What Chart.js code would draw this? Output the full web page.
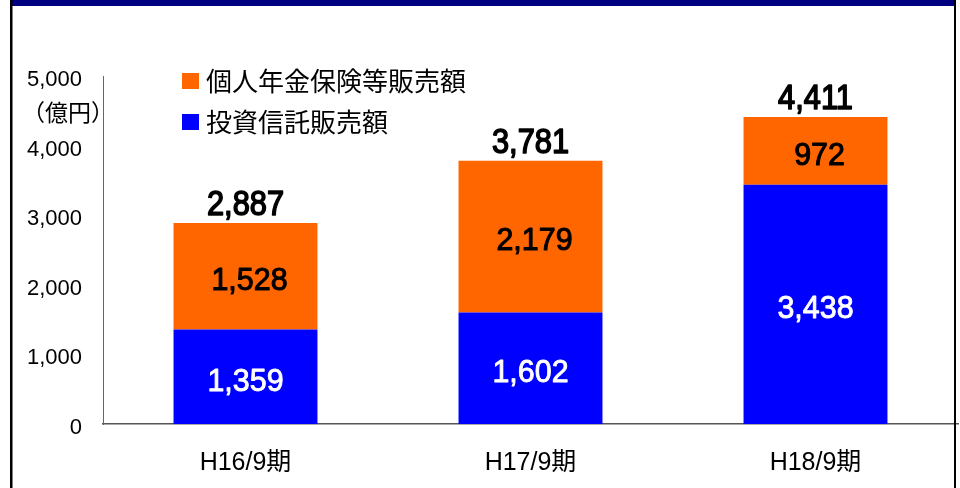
<!DOCTYPE html>
<html><head><meta charset="utf-8">
<script src="https://cdn.jsdelivr.net/npm/chart.js@4"></script>
<style>html,body{margin:0;padding:0;background:#fff;}canvas{display:block;}</style>
</head><body>
<canvas id="c" width="960" height="488"></canvas>
<script>
const categories = ['H16/9期', 'H17/9期', 'H18/9期'];
const trustSales = [1359, 1602, 3438];      // 投資信託販売額
const pensionSales = [1528, 2179, 972];     // 個人年金保険等販売額
const totals = [2887, 3781, 4411];
const seriesNames = ['投資信託販売額', '個人年金保険等販売額'];
const unitLabel = '（億円）';
const yMin = 0, yMax = 5000, yStep = 1000;

const LAT = "'Liberation Sans', Arial, 'Noto Sans CJK JP', sans-serif";
const CJK = "'Noto Sans CJK JP', 'Liberation Sans', sans-serif";
const fmt = v => v.toLocaleString('en-US');

const framePlugin = {
  id: 'frame',
  beforeDraw(chart) {
    const ctx = chart.ctx;
    ctx.save();
    ctx.fillStyle = '#fff';
    ctx.fillRect(0, 0, chart.width, chart.height);
    ctx.restore();
  },
  afterDraw(chart) {
    const ctx = chart.ctx;
    ctx.save();
    ctx.fillStyle = '#000080';
    ctx.fillRect(10, 0, 946, 6);
    ctx.fillStyle = '#000';
    ctx.fillRect(10, 0, 2.5, chart.height);
    ctx.fillRect(954, 0, 2, chart.height);
    ctx.restore();
  }
};

function drawScaled(ctx, text, x, y, font, sx, stroke) {
  ctx.save();
  ctx.translate(x, y);
  ctx.scale(sx, 1);
  ctx.font = font;
  ctx.fillText(text, 0, 0);
  if (stroke) {
    ctx.strokeStyle = ctx.fillStyle;
    ctx.lineWidth = stroke;
    ctx.lineJoin = 'round';
    ctx.strokeText(text, 0, 0);
  }
  ctx.restore();
}

const labelPlugin = {
  id: 'labels',
  afterDatasetsDraw(chart) {
    const ctx = chart.ctx;
    ctx.save();
    ctx.textAlign = 'center';
    ctx.textBaseline = 'middle';
    chart.data.datasets.forEach((ds, di) => {
      const meta = chart.getDatasetMeta(di);
      meta.data.forEach((bar, i) => {
        const yc = (bar.y + bar.base) / 2 + 5;
        if (di === 0) {
          ctx.fillStyle = '#fff';
          drawScaled(ctx, fmt(ds.data[i]), bar.x, yc, '32px ' + LAT, 0.95, 0.9);
        } else {
          ctx.fillStyle = '#000';
          drawScaled(ctx, fmt(ds.data[i]), bar.x + 4, yc, '32px ' + LAT, 0.95, 1.1);
        }
      });
    });
    // totals
    const topMeta = chart.getDatasetMeta(chart.data.datasets.length - 1);
    ctx.fillStyle = '#000';
    ctx.textBaseline = 'alphabetic';
    topMeta.data.forEach((bar, i) => {
      drawScaled(ctx, fmt(totals[i]), bar.x, bar.y - 8, '35px ' + LAT, 0.88, 1.6);
    });
    // unit label
    ctx.textAlign = 'left';
    ctx.textBaseline = 'middle';
    ctx.fillStyle = '#000';
    ctx.font = '23px ' + CJK;
    ctx.fillText(unitLabel, 22, 112);
    // legend (orange first)
    const items = [
      { text: chart.data.datasets[1].label, color: chart.data.datasets[1].backgroundColor, y: 81 },
      { text: chart.data.datasets[0].label, color: chart.data.datasets[0].backgroundColor, y: 122 }
    ];
    ctx.font = '26px ' + CJK;
    items.forEach(it => {
      ctx.fillStyle = it.color;
      ctx.fillRect(182, it.y - 8, 17, 16);
      ctx.fillStyle = '#000';
      ctx.fillText(it.text, 206, it.y);
    });
    ctx.restore();
  }
};

new Chart(document.getElementById('c'), {
  type: 'bar',
  data: {
    labels: categories,
    datasets: [
      { label: seriesNames[0], data: trustSales, backgroundColor: '#0000FF', stack: 's' },
      { label: seriesNames[1], data: pensionSales, backgroundColor: '#FF6600', stack: 's' }
    ]
  },
  options: {
    responsive: false,
    devicePixelRatio: 1,
    animation: false,
    layout: { padding: { top: 76, right: 2, left: 0, bottom: 0 } },
    plugins: { legend: { display: false }, tooltip: { enabled: false } },
    datasets: { bar: { categoryPercentage: 1, barPercentage: 0.505 } },
    scales: {
      x: {
        stacked: true,
        grid: { display: false, drawTicks: false },
        border: { display: true, color: '#555', width: 1.5 },
        ticks: { color: '#000', font: { family: LAT, size: 25 }, padding: 24 },
        afterFit(s) { s.height = 64; }
      },
      y: {
        stacked: true,
        min: yMin, max: yMax,
        grid: { display: false, drawTicks: false },
        border: { display: true, color: '#666', width: 1 },
        ticks: { stepSize: yStep, color: '#000', font: { family: LAT, size: 22 }, padding: 21, labelOffset: 4, callback: v => fmt(v) },
        afterFit(s) { s.width = 103; }
      }
    }
  },
  plugins: [framePlugin, labelPlugin]
});
</script>
</body></html>
